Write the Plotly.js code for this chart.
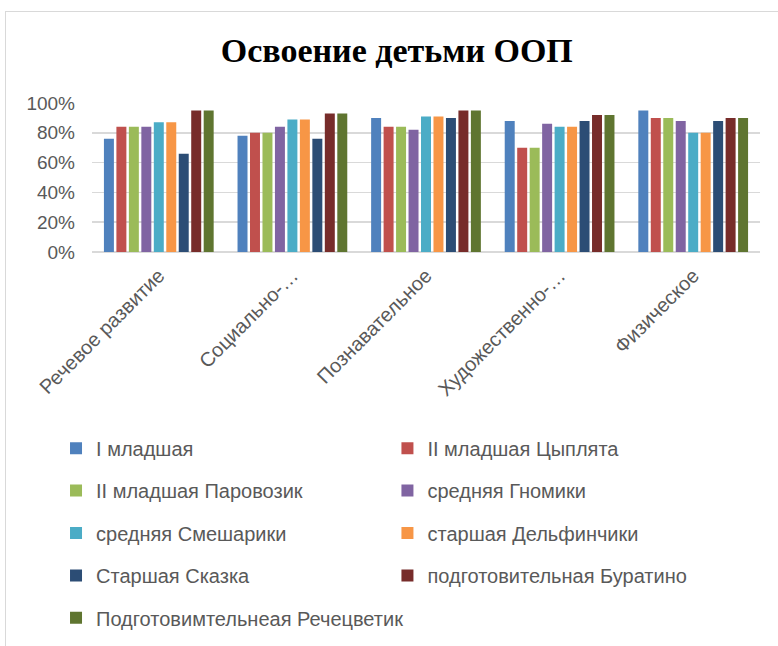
<!DOCTYPE html>
<html>
<head>
<meta charset="utf-8">
<script src="https://cdn.plot.ly/plotly-3.0.1.min.js"></script>
<style>
  html, body { margin: 0; padding: 0; background: #fff; }
  #wrap { position: relative; width: 778px; height: 646px; overflow: hidden; }
  #chart { position: absolute; left: 0; top: 0; width: 778px; height: 646px; }
  #frame { position: absolute; left: 5px; top: 11px; width: 900px; height: 700px; border: 1px solid #d9d9d9; pointer-events: none; }
</style>
</head>
<body>
<div id="wrap">
  <div id="chart"></div>
  <div id="frame"></div>
</div>
<script>
const categories = ["Речевое развитие", "Социально-…", "Познавательное", "Художественно-…", "Физическое"];

const seriesNames = [
  "I младшая",
  "II младшая Цыплята",
  "II младшая Паровозик",
  "средняя Гномики",
  "средняя Смешарики",
  "старшая Дельфинчики",
  "Старшая Сказка",
  "подготовительная Буратино",
  "Подготовимтельнеая Речецветик"
];

const mladshaya1 = [0.76, 0.78, 0.90, 0.88, 0.95];
const tsyplyata = [0.84, 0.80, 0.84, 0.70, 0.90];
const parovozik = [0.84, 0.80, 0.84, 0.70, 0.90];
const gnomiki = [0.84, 0.84, 0.82, 0.86, 0.88];
const smeshariki = [0.87, 0.89, 0.91, 0.84, 0.80];
const delfinchiki = [0.87, 0.89, 0.91, 0.84, 0.80];
const skazka = [0.66, 0.76, 0.90, 0.88, 0.88];
const buratino = [0.95, 0.93, 0.95, 0.92, 0.90];
const rechetsvetik = [0.95, 0.93, 0.95, 0.92, 0.90];

const seriesValues = [mladshaya1, tsyplyata, parovozik, gnomiki, smeshariki, delfinchiki, skazka, buratino, rechetsvetik];

const colors = ["#4F81BD", "#C0504D", "#9BBB59", "#8064A2", "#4BACC6", "#F79646", "#2C4D75", "#772C2A", "#5F7530"];

const yTickVals = [0, 0.2, 0.4, 0.6, 0.8, 1.0];

const traces = seriesNames.map((name, i) => ({
  type: "bar",
  name: name,
  x: categories,
  y: seriesValues[i],
  marker: { color: colors[i], line: { width: 0 } },
  legend: (i % 2 === 0) ? "legend" : "legend2",
  legendgroup: "g" + i,
  hoverinfo: "skip"
}));

const legendFont = { family: "Liberation Sans, Arial, sans-serif", size: 20, color: "#595959" };

const layout = {
  width: 778,
  height: 646,
  paper_bgcolor: "#ffffff",
  plot_bgcolor: "#ffffff",
  margin: { l: 92, r: 18, t: 103, b: 394, autoexpand: false },
  barmode: "group",
  bargap: 0.16,
  bargroupgap: 0.2,
  showlegend: true,
  title: {
    text: "<b>Освоение детьми ООП</b>",
    font: { family: "Liberation Serif, Times New Roman, serif", size: 34, color: "#000000" },
    x: 0.51,
    xanchor: "center",
    y: 0.922,
    yanchor: "middle"
  },
  xaxis: {
    type: "category",
    tickangle: -45,
    tickfont: { family: "Liberation Sans, Arial, sans-serif", size: 20, color: "#595959" },
    showgrid: false,
    showline: false,
    zeroline: false,
    ticks: "",
    ticklabelstandoff: 7,
    automargin: false,
    fixedrange: true
  },
  yaxis: {
    range: [0, 1],
    tickvals: yTickVals,
    tickformat: ".0%",
    tickfont: { family: "Liberation Sans, Arial, sans-serif", size: 19, color: "#595959" },
    showgrid: true,
    gridcolor: "#d9d9d9",
    gridwidth: 1.5,
    zeroline: true,
    zerolinecolor: "#d9d9d9",
    zerolinewidth: 1.5,
    showline: false,
    ticks: "",
    ticklabelstandoff: 16,
    automargin: false,
    fixedrange: true
  },
  legend: {
    orientation: "v",
    xref: "container",
    yref: "container",
    x: 0.072,
    xanchor: "left",
    y: 0.3364,
    yanchor: "top",
    font: legendFont,
    tracegroupgap: 13.4,
    traceorder: "grouped",
    bgcolor: "rgba(0,0,0,0)",
    borderwidth: 0
  },
  legend2: {
    orientation: "v",
    xref: "container",
    yref: "container",
    x: 0.498,
    xanchor: "left",
    y: 0.3364,
    yanchor: "top",
    font: legendFont,
    tracegroupgap: 13.4,
    traceorder: "grouped",
    bgcolor: "rgba(0,0,0,0)",
    borderwidth: 0
  }
};

Plotly.newPlot("chart", traces, layout, { displayModeBar: false, staticPlot: true });
</script>
</body>
</html>
